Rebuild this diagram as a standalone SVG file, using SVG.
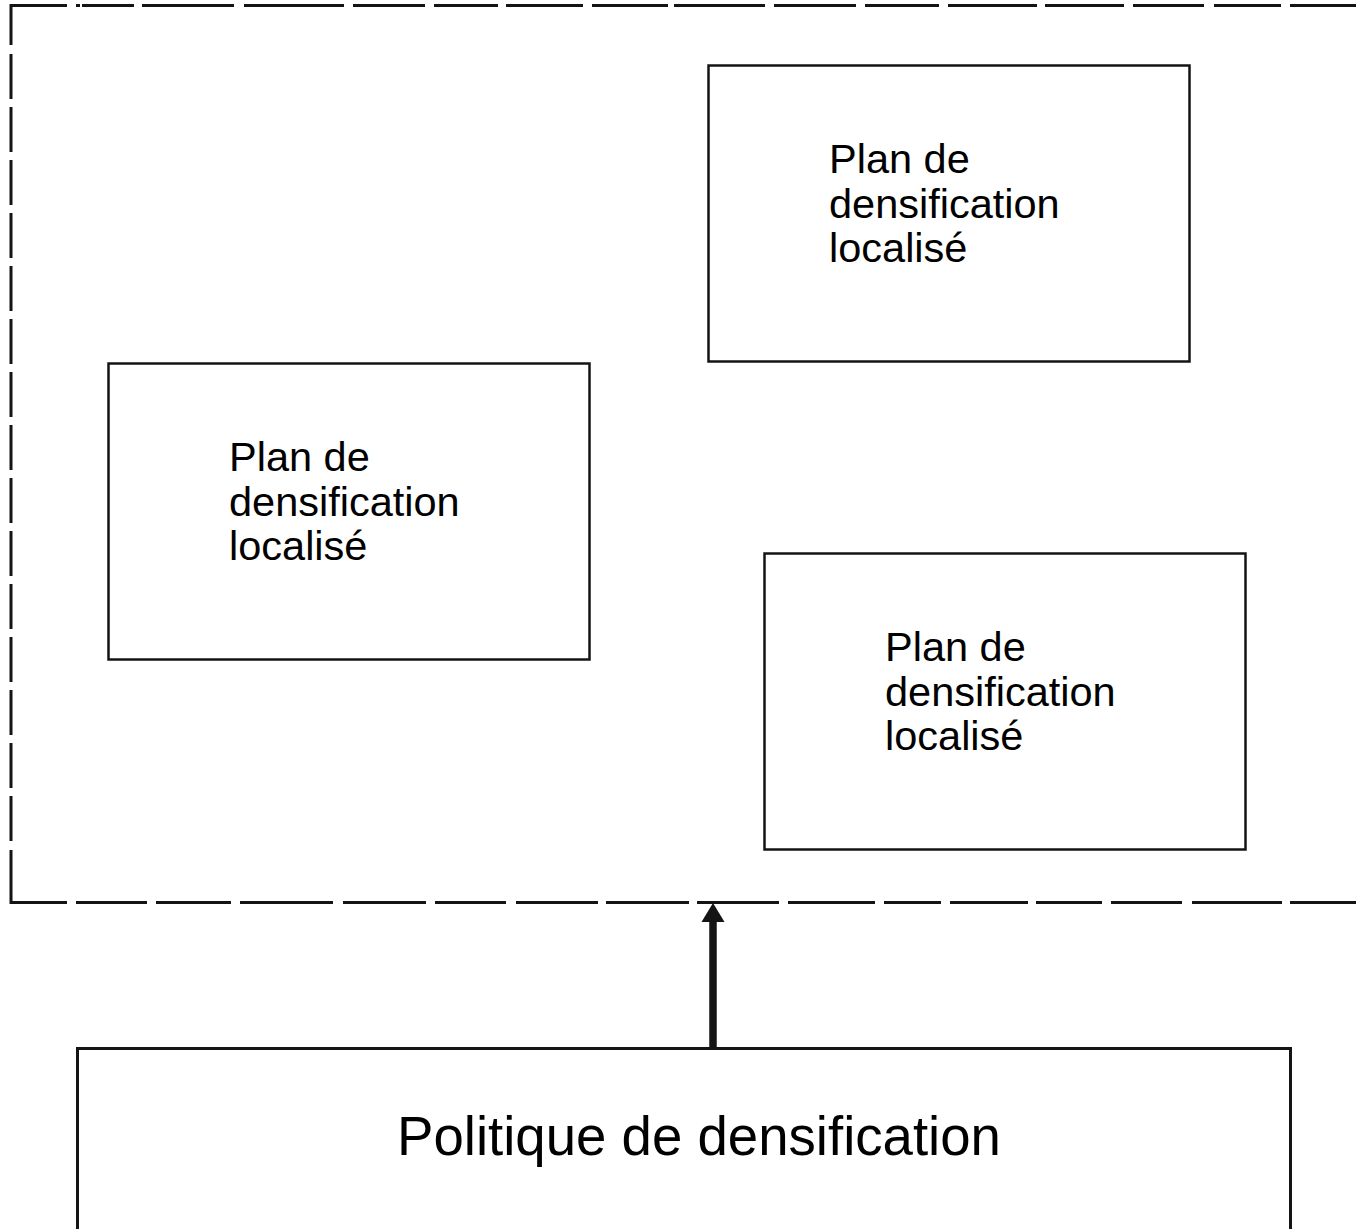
<svg xmlns="http://www.w3.org/2000/svg" width="1356" height="1229" viewBox="0 0 1356 1229">
<style>
.frame{fill:none;stroke:#141414;stroke-width:3;stroke-linecap:butt;stroke-linejoin:miter}
.box{fill:#ffffff;stroke:#141414;stroke-width:2.5}
.lbl{font-family:"Liberation Sans",Arial,sans-serif;font-size:41.5px;fill:#000}
.big{font-family:"Liberation Sans",Arial,sans-serif;font-size:54.6px;fill:#000}
</style>
<defs>
<marker id="ah" markerUnits="userSpaceOnUse" markerWidth="24" markerHeight="24" refX="0" refY="12" orient="auto">
<path d="M0,0.5 L19,12 L0,23.5 z" fill="#141414"/>
</marker>
</defs>
<rect width="1356" height="1229" fill="#ffffff"/>
<g id="container">
<path class="frame" d="M11,45 V5.5 H67 M11,850 V902.5 H67"/>
<path class="frame" d="M11,54 V99 M11,107 V152 M11,160 V205 M11,213 V258 M11,266 V311 M11,319 V364 M11,372 V417 M11,425 V470 M11,478 V523 M11,531 V576 M11,584 V629 M11,637 V682 M11,690 V735 M11,743 V788 M11,796 V841"/>
<path class="frame" d="M76,5.5 H80 M82,5.5 H134 M142,5.5 H234 M244,5.5 H344 M353,5.5 H425 M434,5.5 H498 M506,5.5 H583 M592,5.5 H668 M674,5.5 H765 M774,5.5 H856 M865,5.5 H939 M948,5.5 H1037 M1045,5.5 H1124 M1133,5.5 H1204 M1214,5.5 H1281 M1290,5.5 H1356"/>
<path class="frame" d="M76,902.5 H147 M156,902.5 H231 M240,902.5 H333 M343,902.5 H426 M435,902.5 H506 M516,902.5 H598 M606,902.5 H689 M697,902.5 H779 M788,902.5 H875 M884,902.5 H941 M950,902.5 H1028 M1036,902.5 H1102 M1111,902.5 H1182 M1192,902.5 H1282 M1290,902.5 H1356"/>
</g>
<g id="plan-a">
<rect class="box" x="708.5" y="65.5" width="481" height="296"/>
<text class="lbl" x="829" y="173">Plan de</text>
<text class="lbl" x="829" y="218">densification</text>
<text class="lbl" x="829" y="262">localisé</text>
</g>
<g id="plan-b">
<rect class="box" x="108.5" y="363.5" width="481" height="296"/>
<text class="lbl" x="229" y="471">Plan de</text>
<text class="lbl" x="229" y="516">densification</text>
<text class="lbl" x="229" y="560">localisé</text>
</g>
<g id="plan-c">
<rect class="box" x="764.5" y="553.5" width="481" height="296"/>
<text class="lbl" x="885" y="661">Plan de</text>
<text class="lbl" x="885" y="706">densification</text>
<text class="lbl" x="885" y="750">localisé</text>
</g>
<g id="politique">
<rect x="77.5" y="1048.5" width="1213" height="200" fill="#ffffff" stroke="#141414" stroke-width="3"/>
<text class="big" x="397" y="1155">Politique de densification</text>
</g>
<g id="connectors">
<line x1="713" y1="1047" x2="713" y2="922" stroke="#141414" stroke-width="7.5" marker-end="url(#ah)"/>
</g>
</svg>
